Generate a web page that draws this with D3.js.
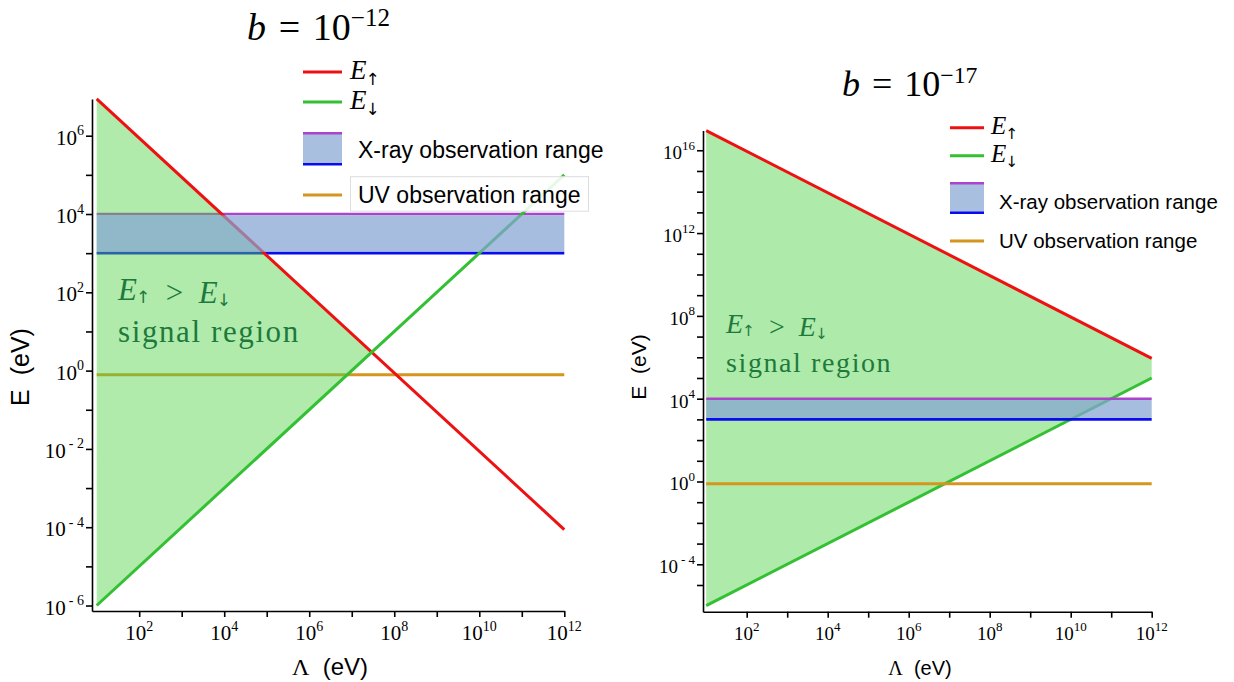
<!DOCTYPE html>
<html><head><meta charset="utf-8">
<script src="https://cdn.jsdelivr.net/npm/d3@7"></script>
<style>body{margin:0;background:#fff}svg{display:block}</style>
</head><body>
<svg id="chart" width="1234" height="682"></svg>
<script>
// ---------------- data ----------------
const lambdaEnds = [10, 1e12];          // Λ (eV) at the ends of each curve
const eUp12   = [8.7e6, 8.7e-5];        // E↑ for b = 1e-12
const eDown12 = [1e-6, 1e5];            // E↓ for b = 1e-12
const eUp17   = [8.9e16, 8.9e5];        // E↑ for b = 1e-17
const eDown17 = [1e-6, 1e5];            // E↓ for b = 1e-17
const xrayRange = [1e3, 1e4];           // X-ray observation range (eV)
const uvEnergy = [0.78];                // UV observation range (eV)
const bExponents = ["\u221212", "\u221217"];
const xMajorExp = [2, 4, 6, 8, 10, 12];
const xMinorExp = [3, 5, 7, 9, 11];
const yMajorExp12 = [-6, -4, -2, 0, 2, 4, 6];
const yMinorExp12 = [-5, -3, -1, 1, 3, 5];
const yMajorExp17 = [-4, 0, 4, 8, 12, 16];
const yMinorExp17 = [-5, -3, -2, -1, 1, 2, 3, 5, 6, 7, 9, 10, 11, 13, 14, 15];
const legendNames = ["X-ray observation range", "UV observation range"];

// ---------------- styles ----------------
const C = {red:"#ee1111", green:"#33c033", purple:"#aa44cc", blue:"#0a0af0",
  uv:"#d4961e", fill:"rgba(80,210,70,0.45)", fillSolid:"#aeeaa9",
  band:"rgba(132,164,211,0.72)", bandSolid:"#a9bfe0", text:"#1e7a3c"};
const SERIF = "'Liberation Serif','Times New Roman',serif";
const SANS = "'Liberation Sans',Arial,Helvetica,sans-serif";
const ARROW = "'DejaVu Sans',sans-serif";

const svg = d3.select("#chart");

const panels = [
  {up:eUp12, down:eDown12, bexp:bExponents[0], yMaj:yMajorExp12, yMin:yMinorExp12,
   xDom:[Math.pow(10,0.89),1e12], xRange:[92,564.3],
   yDom:[Math.pow(10,-6.14),Math.pow(10,6.94)], yRange:[611,98.9],
   fillOnTop:true,
   title:{x:247,y:40,size:38},
   tickFont:21, supFont:14,
   leg:{x0:303,x1:342,red:72,green:102,boxT:133.3,boxB:164.3,uv:195,tx:358,ex:350,eSize:27,txtSize:23,
        xrayBase:158,uvBase:203,uvBox:[350.5,176.7,238,34.5]},
   ann:{x:118,y1:300,y2:342,size:31,ls:1.6},
   ylab:{x:29,y:367,size:25}, xlab:{x:330,y:675,size:24}},
  {up:eUp17, down:eDown17, bexp:bExponents[1], yMaj:yMajorExp17, yMin:yMinorExp17,
   xDom:[Math.pow(10,0.921),1e12], xRange:[703,1151.7],
   yDom:[Math.pow(10,-6.29),Math.pow(10,16.95)], yRange:[611.7,130.6],
   fillOnTop:false,
   title:{x:842,y:96,size:36},
   tickFont:19, supFont:13,
   leg:{x0:950,x1:984,red:127.7,green:155.7,boxT:183.3,boxB:212.7,uv:241,tx:999,ex:991,eSize:25,txtSize:20.5,
        xrayBase:209,uvBase:248,uvBox:null},
   ann:{x:726,y1:333,y2:372,size:28,ls:1.6},
   ylab:{x:646,y:367,size:21}, xlab:{x:920,y:675,size:20}}
];

function intersect(up, down){
  const lx0 = Math.log10(lambdaEnds[0]), lx1 = Math.log10(lambdaEnds[1]);
  const su = (Math.log10(up[1])-Math.log10(up[0]))/(lx1-lx0);
  const sd = (Math.log10(down[1])-Math.log10(down[0]))/(lx1-lx0);
  const t = (Math.log10(down[0])-Math.log10(up[0]))/(su-sd);
  if (t <= 0 || t >= lx1-lx0) return null;
  return [Math.pow(10,lx0+t), Math.pow(10,Math.log10(up[0])+su*t)];
}

function subArrow(textSel, size, arrow, scale, drop) {
  textSel.append("tspan").attr("font-family",ARROW).attr("font-style","normal")
    .attr("font-size",size*scale).attr("dy",size*drop).attr("dx",-1).text(arrow);
  textSel.append("tspan").attr("dy",-size*drop).text("");
}

panels.forEach(p => {
  const x = d3.scaleLog().domain(p.xDom).range(p.xRange);
  const y = d3.scaleLog().domain(p.yDom).range(p.yRange);
  const g = svg.append("g");
  const line = d3.line().x(d=>x(d[0])).y(d=>y(d[1]));

  const upPts = lambdaEnds.map((l,i)=>[l,p.up[i]]);
  const downPts = lambdaEnds.map((l,i)=>[l,p.down[i]]);
  const cross = intersect(p.up, p.down);
  const poly = cross ? [upPts[0], cross, downPts[0]]
                     : [upPts[0], upPts[1], downPts[1], downPts[0]];

  const drawFill = (fill) => g.append("path").attr("d", line(poly)+"Z").attr("fill", fill).attr("stroke","none");
  const drawHLines = () => {
    g.append("path").attr("d", line(lambdaEnds.map(l=>[l,xrayRange[1]]))).attr("stroke",C.purple).attr("stroke-width",2.6).attr("fill","none");
    g.append("path").attr("d", line(lambdaEnds.map(l=>[l,xrayRange[0]]))).attr("stroke",C.blue).attr("stroke-width",2.6).attr("fill","none");
    g.append("path").attr("d", line(lambdaEnds.map(l=>[l,uvEnergy[0]]))).attr("stroke",C.uv).attr("stroke-width",3).attr("fill","none");
  };
  const drawCurves = () => {
    g.append("path").attr("d", line(upPts)).attr("stroke",C.red).attr("stroke-width",3).attr("fill","none");
    g.append("path").attr("d", line(downPts)).attr("stroke",C.green).attr("stroke-width",3).attr("fill","none");
  };
  const drawBand = () => {
    g.append("rect").attr("x", x(lambdaEnds[0])).attr("width", x(lambdaEnds[1])-x(lambdaEnds[0]))
      .attr("y", y(xrayRange[1])+1.3).attr("height", y(xrayRange[0])-y(xrayRange[1])-2.6)
      .attr("fill", C.band);
  };

  if (p.fillOnTop) {
    drawHLines(); drawFill(C.fill); drawCurves(); drawBand();
  } else {
    drawFill(C.fillSolid); drawCurves(); drawBand(); drawHLines();
  }

  // axes
  const xAxis = d3.axisBottom(x).tickValues([...xMajorExp,...xMinorExp].map(e=>Math.pow(10,e)))
    .tickFormat("").tickSizeInner(6).tickSizeOuter(0);
  const yAxis = d3.axisLeft(y).tickValues([...p.yMaj,...p.yMin].map(e=>Math.pow(10,e)))
    .tickFormat("").tickSizeInner(6).tickSizeOuter(0);
  const gx = g.append("g").attr("transform",`translate(0,${p.yRange[0]})`).call(xAxis);
  const gy = g.append("g").attr("transform",`translate(${p.xRange[0]},0)`).call(yAxis);
  [gx,gy].forEach(a=>{a.selectAll("path,line").attr("stroke","#000").attr("stroke-width",1.6);});

  // x tick labels
  xMajorExp.forEach(e=>{
    const t = g.append("text").attr("x", x(Math.pow(10,e))).attr("y", 640)
      .attr("text-anchor","middle").attr("font-family",SERIF).attr("font-size",p.tickFont).attr("fill","#000");
    t.append("tspan").text("10");
    t.append("tspan").attr("dy",-9).attr("font-size",p.supFont).text(String(e));
  });
  // y tick labels
  p.yMaj.forEach(e=>{
    const yy = y(Math.pow(10,e));
    const t = g.append("text").attr("x", p.xRange[0]-8).attr("y", yy+9)
      .attr("text-anchor","end").attr("font-family",SERIF).attr("font-size",p.tickFont).attr("fill","#000");
    t.append("tspan").text("10");
    t.append("tspan").attr("dy",-9.5).attr("dx", e<0?3:0).attr("font-size",p.supFont)
      .text(e<0 ? "- "+Math.abs(e) : String(e));
  });

  // axis titles
  g.append("text").attr("transform",`translate(${p.ylab.x},${p.ylab.y}) rotate(-90)`)
    .attr("text-anchor","middle").attr("font-family",SANS).attr("font-size",p.ylab.size)
    .text("E\u00a0 (eV)");
  const xl = g.append("text").attr("x",p.xlab.x).attr("y",p.xlab.y).attr("text-anchor","middle")
    .attr("font-size",p.xlab.size);
  xl.append("tspan").attr("font-family",SERIF).text("\u039b");
  xl.append("tspan").attr("font-family",SANS).text("\u00a0 (eV)");

  // title
  const tt = g.append("text").attr("x",p.title.x).attr("y",p.title.y).attr("text-anchor","start")
    .attr("font-family",SERIF).attr("font-size",p.title.size);
  tt.append("tspan").attr("font-style","italic").text("b");
  tt.append("tspan").text("\u2004=\u200410");
  tt.append("tspan").attr("dy",-p.title.size*0.36).attr("font-size",p.title.size*0.66).text(p.bexp);

  // annotation
  const a = p.ann;
  const a1 = g.append("text").attr("x",a.x).attr("y",a.y1).attr("font-family",SERIF)
    .attr("font-size",a.size).attr("fill",C.text);
  a1.append("tspan").attr("font-style","italic").text("E");
  subArrow(a1, a.size, "\u2191", 0.55, 0.1);
  a1.append("tspan").text("\u2002>\u2002");
  a1.append("tspan").attr("font-style","italic").text("E");
  subArrow(a1, a.size, "\u2193", 0.55, 0.1);
  g.append("text").attr("x",a.x).attr("y",a.y2).attr("font-family",SERIF)
    .attr("font-size",a.size).attr("letter-spacing",a.ls).attr("fill",C.text).text("signal region");

  // legend
  const L = p.leg;
  const legE = (yy, arrow, color) => {
    g.append("line").attr("x1",L.x0).attr("x2",L.x1).attr("y1",yy).attr("y2",yy)
      .attr("stroke",color).attr("stroke-width",3);
    const t = g.append("text").attr("x",L.ex).attr("y",yy+L.eSize*0.27).attr("font-family",SERIF)
      .attr("font-size",L.eSize);
    t.append("tspan").attr("font-style","italic").text("E");
    subArrow(t, L.eSize, arrow, 0.62, 0.2);
  };
  legE(L.red, "\u2191", C.red);
  legE(L.green, "\u2193", C.green);
  g.append("rect").attr("x",L.x0).attr("y",L.boxT).attr("width",L.x1-L.x0).attr("height",L.boxB-L.boxT)
    .attr("fill",C.bandSolid);
  g.append("line").attr("x1",L.x0).attr("x2",L.x1).attr("y1",L.boxT).attr("y2",L.boxT)
    .attr("stroke",C.purple).attr("stroke-width",2.6);
  g.append("line").attr("x1",L.x0).attr("x2",L.x1).attr("y1",L.boxB).attr("y2",L.boxB)
    .attr("stroke",C.blue).attr("stroke-width",2.6);
  g.append("text").attr("x",L.tx).attr("y",L.xrayBase).attr("font-family",SANS)
    .attr("font-size",L.txtSize).text(legendNames[0]);
  g.append("line").attr("x1",L.x0).attr("x2",L.x1).attr("y1",L.uv).attr("y2",L.uv)
    .attr("stroke",C.uv).attr("stroke-width",3);
  if (L.uvBox) {
    g.append("rect").attr("x",L.uvBox[0]).attr("y",L.uvBox[1]).attr("width",L.uvBox[2]).attr("height",L.uvBox[3])
      .attr("fill","rgba(255,255,255,0.88)").attr("stroke","#dddddd").attr("stroke-width",1);
  }
  g.append("text").attr("x",L.tx).attr("y",L.uvBase).attr("font-family",SANS)
    .attr("font-size",L.txtSize).text(legendNames[1]);
});
</script>
</body></html>
